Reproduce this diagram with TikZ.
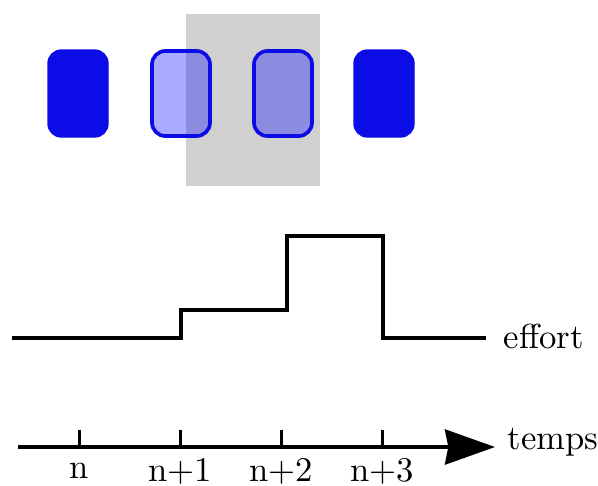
\documentclass[tikz,border=0pt]{standalone}
\usepackage{amsmath}
\usetikzlibrary{arrows.meta}

\definecolor{bloc}{RGB}{12,12,230}
\tikzset{
  solide/.style={fill=bloc, draw=bloc, rounded corners=4pt},
  partiel/.style={fill=blue, fill opacity=0.33, draw=bloc, draw opacity=1, line width=1.1pt, rounded corners=4pt},
  etiq/.style={font=\fontsize{10.4}{12}\selectfont},
}

\begin{document}
\begin{tikzpicture}[x=0.3pt,y=-0.3pt]
  \useasboundingbox (0,0) rectangle (598,485);

  % fenetre grise
  \fill[gray!37] (186,14) rectangle (320,186);

  % blocs
  \foreach \x in {48,354} {
    \filldraw[solide] (\x,50) rectangle (\x+60,137);
  }
  \foreach \x in {152,254} {
    \filldraw[partiel] (\x,51) rectangle (\x+58,136);
  }

  % effort
  \draw[line width=1pt] (12,338) -- (181,338) -- (181,310) -- (287,310)
        -- (287,236) -- (383,236) -- (383,338) -- (486,338) coordinate (e);
  \node[etiq, anchor=west, inner sep=0pt] (effort) at (503,336) {effort};

  % axe du temps
  \coordinate (t0) at (18,447);
  \coordinate (t1) at (495,447);
  \draw[line width=1.2pt, -{Stealth[length=15pt, width=10.5pt, inset=1pt]}] (t0) -- (t1);
  \node[etiq, anchor=west, inner sep=0pt] (temps) at (507,442) {temps};

  \foreach \x/\lab [count=\i] in {79/n,180/n+1,281/n+2,382/n+3} {
    \draw[line width=0.9pt] (\x,430) -- (\x,447);
    \node[etiq] (l\i) at (\x,471) {\lab};
  }

\end{tikzpicture}
\end{document}
